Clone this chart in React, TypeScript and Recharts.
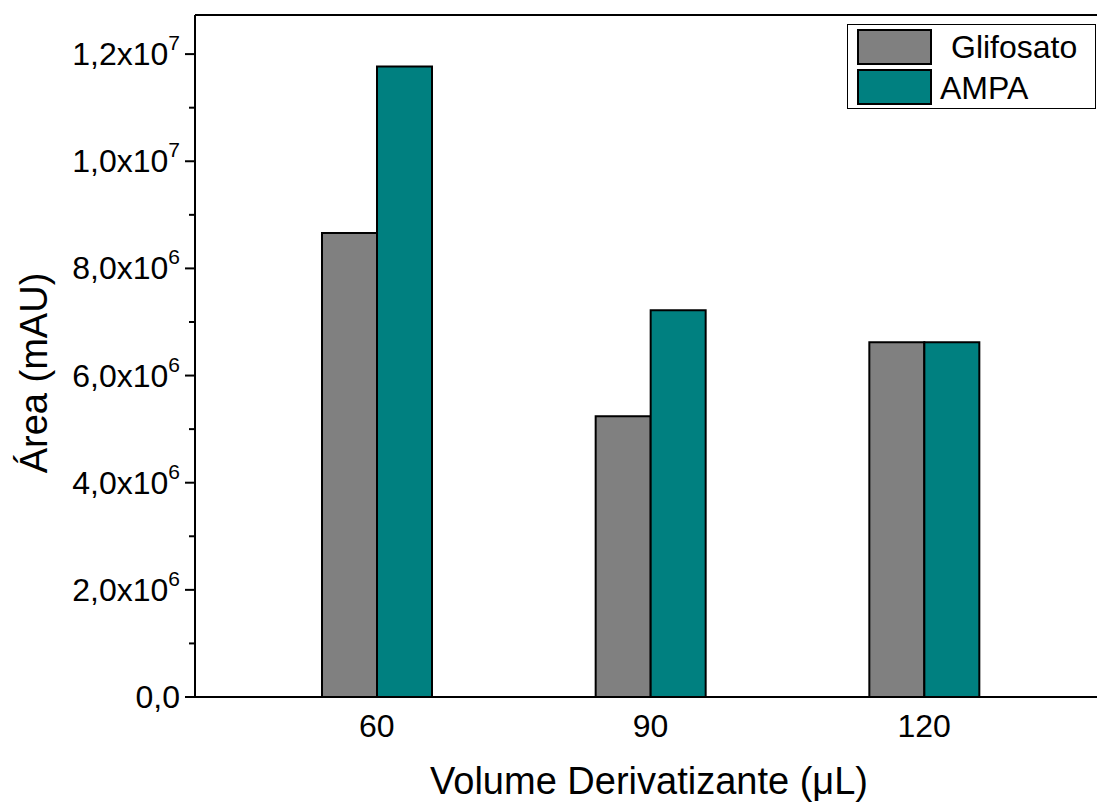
import React from 'react';
import { BarChart, Bar, XAxis, YAxis, ReferenceLine, Label } from 'recharts';

const volumes = ['60', '90', '120'];
const glifosato = [8.66e6, 5.24e6, 6.62e6];
const ampa = [11.77e6, 7.22e6, 6.62e6];
const yTicks = [0, 1e6, 2e6, 3e6, 4e6, 5e6, 6e6, 7e6, 8e6, 9e6, 10e6, 11e6, 12e6];
const yMax = 12.73e6;
const seriesNames = ['Glifosato', 'AMPA'];
const seriesColors = ['#808080', '#008080'];

const data = volumes.map((v, i) => ({ vol: v, Glifosato: glifosato[i], AMPA: ampa[i] }));

const font = '"Liberation Sans", Arial, sans-serif';

const formatTick = (v: number): [string, string] => {
  if (v === 0) return ['0,0', ''];
  const exp = Math.floor(Math.log10(v));
  const mant = (v / Math.pow(10, exp)).toFixed(1).replace('.', ',');
  return [`${mant}x10`, String(exp)];
};

const YTick = (props: any) => {
  const { x, y, payload } = props;
  const v = payload.value as number;
  const major = Math.round(v / 1e6) % 2 === 0;
  if (!major) {
    return <line x1={x - 6} x2={x} y1={y} y2={y} stroke="#000" strokeWidth={2} />;
  }
  const [base, sup] = formatTick(v);
  return (
    <g>
      <line x1={x - 10} x2={x} y1={y} y2={y} stroke="#000" strokeWidth={2} />
      <text x={x - 15} y={y + 11} textAnchor="end" fontSize={32} fontFamily={font} fill="#000">
        <tspan>{base}</tspan>
        {sup && (
          <tspan dy={-15} fontSize={21}>
            {sup}
          </tspan>
        )}
      </text>
    </g>
  );
};

const XTick = (props: any) => {
  const { x, y, payload } = props;
  return (
    <text x={x} y={y + 40} textAnchor="middle" fontSize={32} fontFamily={font} fill="#000">
      {payload.value}
    </text>
  );
};

const LegendBox = () => (
  <div
    style={{
      position: 'absolute',
      left: 847,
      top: 24,
      width: 249,
      height: 85,
      border: '1.5px solid #000',
      background: '#fff',
      boxSizing: 'border-box',
      fontFamily: font,
      fontSize: 32,
      color: '#000',
    }}
  >
    {seriesNames.map((name, i) => (
      <div key={name}>
        <div
          style={{
            position: 'absolute',
            left: 9,
            top: i === 0 ? 4 : 44,
            width: 75,
            height: 36,
            background: seriesColors[i],
            border: '2px solid #000',
            boxSizing: 'border-box',
          }}
        />
        <div
          style={{
            position: 'absolute',
            left: i === 0 ? 103 : 92,
            top: i === 0 ? 4 : 45,
            lineHeight: '36px',
          }}
        >
          {name}
        </div>
      </div>
    ))}
  </div>
);

export default function App() {
  return (
    <div
      style={{
        position: 'absolute',
        left: 0,
        top: 0,
        width: 1097,
        height: 805,
        overflow: 'hidden',
        background: '#fff',
      }}
    >
      <BarChart
        width={1120}
        height={805}
        data={data}
        margin={{ top: 15, right: 12, bottom: 0, left: 0 }}
        barSize={55}
        barGap={0}
      >
        <XAxis
          dataKey="vol"
          padding={{ left: 45, right: 47 }}
          height={108}
          tickSize={0}
          tickMargin={0}
          tickLine={false}
          tick={<XTick />}
          axisLine={{ stroke: '#000', strokeWidth: 2 }}
        >
          <Label
            content={() => (
              <text x={649} y={794} textAnchor="middle" fontSize={38} fontFamily={font} fill="#000">
                Volume Derivatizante (μL)
              </text>
            )}
          />
        </XAxis>
        <YAxis
          width={195}
          domain={[0, yMax]}
          ticks={yTicks}
          interval={0}
          tickSize={0}
          tickMargin={0}
          tickLine={false}
          tick={<YTick />}
          axisLine={{ stroke: '#000', strokeWidth: 2 }}
        >
          <Label
            content={() => (
              <text
                x={47}
                y={373}
                transform="rotate(-90, 47, 373)"
                textAnchor="middle"
                fontSize={38}
                fontFamily={font}
                fill="#000"
              >
                Área (mAU)
              </text>
            )}
          />
        </YAxis>
        <ReferenceLine y={yMax} stroke="#000" strokeWidth={2} />
        <Bar dataKey="Glifosato" fill={seriesColors[0]} stroke="#000" strokeWidth={2} isAnimationActive={false} />
        <Bar dataKey="AMPA" fill={seriesColors[1]} stroke="#000" strokeWidth={2} isAnimationActive={false} />
      </BarChart>
      <LegendBox />
    </div>
  );
}
